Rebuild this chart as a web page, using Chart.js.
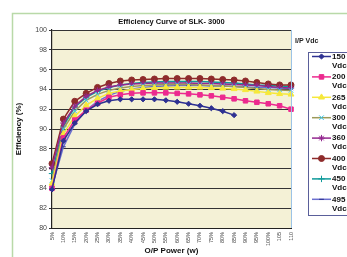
<!DOCTYPE html>
<html>
<head>
<meta charset="utf-8">
<script src="https://cdn.jsdelivr.net/npm/chart.js@4.4.1/dist/chart.umd.min.js"></script>
<style>
  html, body { margin: 0; padding: 0; background: #fff; }
  #wrap { width: 347px; height: 257px; position: relative; }
</style>
</head>
<body>
<div id="wrap"><canvas id="effChart"></canvas></div>
<script>
// Categories (O/P power)
const loads = ['5%', '10%', '15%', '20%', '25%', '30%', '35%', '40%', '45%', '50%', '55%',
               '60%', '65%', '70%', '75%', '80%', '85%', '90%', '95%', '100%', '105', '110'];

// Efficiency (%) per input voltage
const vdc150 = [83.9, 88.8, 90.6, 91.8, 92.5, 92.85, 93.0, 93.0, 93.0, 93.0, 92.9,
                92.75, 92.55, 92.35, 92.1, 91.8, 91.4];
const vdc200 = [84.0, 89.1, 90.9, 91.9, 92.6, 93.2, 93.45, 93.6, 93.65, 93.65, 93.65,
                93.6, 93.55, 93.45, 93.35, 93.2, 93.05, 92.85, 92.7, 92.55, 92.35, 92.0];
const vdc265 = [84.5, 89.5, 91.3, 92.4, 93.1, 93.6, 93.85, 94.0, 94.1, 94.15, 94.2,
                94.2, 94.2, 94.2, 94.15, 94.1, 94.05, 93.95, 93.8, 93.65, 93.55, 93.5];
const vdc300 = [84.8, 90.0, 91.8, 92.9, 93.5, 93.9, 94.15, 94.3, 94.4, 94.45, 94.5,
                94.5, 94.5, 94.45, 94.4, 94.35, 94.3, 94.2, 94.1, 94.0, 93.95, 93.9];
const vdc360 = [86.1, 90.6, 92.3, 93.3, 93.9, 94.25, 94.45, 94.55, 94.6, 94.65, 94.65,
                94.65, 94.65, 94.6, 94.6, 94.55, 94.5, 94.45, 94.4, 94.3, 94.2, 94.15];
const vdc400 = [86.5, 91.0, 92.8, 93.6, 94.2, 94.6, 94.85, 94.95, 95.0, 95.05, 95.1,
                95.1, 95.1, 95.1, 95.05, 95.0, 94.95, 94.85, 94.7, 94.55, 94.45, 94.45];
const vdc450 = [85.5, 90.3, 92.2, 93.2, 93.8, 94.2, 94.45, 94.6, 94.7, 94.75, 94.8,
                94.8, 94.8, 94.8, 94.75, 94.7, 94.65, 94.55, 94.45, 94.4, 94.35, 94.3];
const vdc495 = [84.2, 88.2, 90.5, 91.9, 92.8, 93.4, 93.8, 94.05, 94.2, 94.3, 94.35,
                94.4, 94.4, 94.4, 94.35, 94.35, 94.3, 94.25, 94.2, 94.2, 94.15, 94.1];

const yTicks = { min: 80, max: 100, step: 2 };

const series = [
    { label: '150', data: vdc150, line: '#2e3192', point: '#2e3192', style: 'rectRot', r: 2.6 },
    { label: '200', data: vdc200, line: '#ec2a8f', point: '#ec2a8f', style: 'rect', r: 3.2 },
    { label: '265', data: vdc265, line: '#f6e83a', point: '#f6e83a', style: 'triangle', r: 3.4 },
    { label: '300', data: vdc300, line: '#9c9a5a', point: '#33c6ee', style: 'crossRot', r: 3.2 },
    { label: '360', data: vdc360, line: '#93278f', point: '#93278f', style: 'star', r: 3.2 },
    { label: '400', data: vdc400, line: '#8e2b2b', point: '#8e2b2b', style: 'circle', r: 3.0 },
    { label: '450', data: vdc450, line: '#0f9a9a', point: '#0f9a9a', style: 'cross', r: 3.2 },
    { label: '495', data: vdc495, line: '#6b6fcf', point: '#2a2f8e', style: 'line', r: 2.4 }
];

// cream plot area + light green outer frame
const backdrop = {
    id: 'backdrop',
    beforeDraw(chart) {
        const { ctx, chartArea: a } = chart;
        ctx.save();
        ctx.strokeStyle = '#b9d9a8';
        ctx.lineWidth = 1.5;
        ctx.strokeRect(12.5, 13.5, 400, 300);
        ctx.fillStyle = '#f4f1d6';
        ctx.fillRect(a.left, a.top, a.right - a.left, a.bottom - a.top);
        ctx.restore();
    },
    afterDraw(chart) {
        const { ctx, chartArea: a } = chart;
        ctx.save();
        ctx.strokeStyle = '#9cc3e6';
        ctx.lineWidth = 1;
        ctx.beginPath();
        ctx.moveTo(a.right + 0.5, a.top);
        ctx.lineTo(a.right + 0.5, a.bottom);
        ctx.stroke();
        ctx.restore();
    }
};

// side legend drawn from the dataset styles
const sideLegend = {
    id: 'sideLegend',
    afterDraw(chart) {
        const ctx = chart.ctx;
        ctx.save();
        ctx.fillStyle = '#222';
        ctx.font = 'bold 7px "Liberation Sans", Arial, sans-serif';
        ctx.textBaseline = 'middle';
        ctx.fillText('I/P Vdc', 295, 41);

        ctx.strokeStyle = '#5a5f9a';
        ctx.lineWidth = 1;
        ctx.strokeRect(308.5, 52.5, 60, 163);

        ctx.font = 'bold 8px "Liberation Sans", Arial, sans-serif';
        chart.data.datasets.forEach((ds, i) => {
            const y = 56.5 + i * 20.4;
            ctx.strokeStyle = ds.borderColor;
            ctx.lineWidth = 1.5;
            ctx.beginPath();
            ctx.moveTo(312, y);
            ctx.lineTo(331, y);
            ctx.stroke();
            ctx.fillStyle = ds.pointBackgroundColor;
            ctx.strokeStyle = ds.pointBorderColor;
            ctx.lineWidth = 1;
            Chart.helpers.drawPoint(ctx, { pointStyle: ds.pointStyle, radius: ds.pointRadius, rotation: 0, borderWidth: 1 }, 321.5, y);
            ctx.fillStyle = '#111';
            ctx.fillText(ds.label, 332, y);
            ctx.fillText('Vdc', 332, y + 9);
        });
        ctx.restore();
    }
};

new Chart(document.getElementById('effChart'), {
    type: 'line',
    data: {
        labels: loads,
        datasets: series.map(s => ({
            label: s.label,
            data: s.data,
            borderColor: s.line,
            borderWidth: 1.5,
            pointStyle: s.style,
            pointRadius: s.r,
            pointBackgroundColor: s.point,
            pointBorderColor: s.point,
            pointBorderWidth: 1,
            tension: 0,
            fill: false
        }))
    },
    options: {
        responsive: true,
        maintainAspectRatio: false,
        animation: false,
        layout: { padding: { left: 14, top: 13, right: 56, bottom: 0 } },
        plugins: {
            legend: { display: false },
            tooltip: { enabled: false },
            title: {
                display: true,
                fullSize: false,
                text: 'Efficiency Curve of SLK- 3000',
                color: '#111',
                font: { family: '"Liberation Sans", Arial, sans-serif', size: 7.5, weight: 'bold' },
                padding: { top: 4, bottom: 4 }
            }
        },
        scales: {
            x: {
                offset: false,
                grid: { display: false, drawOnChartArea: false, drawTicks: true, tickLength: 3, color: '#222' },
                border: { color: '#222', width: 1 },
                ticks: {
                    color: '#444',
                    font: { family: '"Liberation Sans", Arial, sans-serif', size: 5.5 },
                    maxRotation: 90, minRotation: 90, autoSkip: false, padding: 1
                },
                title: {
                    display: true,
                    text: 'O/P Power (w)',
                    color: '#111',
                    font: { family: '"Liberation Sans", Arial, sans-serif', size: 8, weight: 'bold' },
                    padding: { top: 0, bottom: 1 }
                },
                afterFit: s => { s.height = 29; }
            },
            y: {
                min: yTicks.min,
                max: yTicks.max,
                grid: { color: '#333', lineWidth: 1, tickLength: 3 },
                border: { color: '#222', width: 1.2 },
                ticks: {
                    stepSize: yTicks.step,
                    color: '#444',
                    font: { family: '"Liberation Sans", Arial, sans-serif', size: 7 },
                    padding: 2
                },
                title: {
                    display: true,
                    text: 'Efficiency (%)',
                    color: '#111',
                    font: { family: '"Liberation Sans", Arial, sans-serif', size: 8, weight: 'bold' },
                    padding: { top: 0, bottom: 0 }
                },
                afterFit: s => { s.width = 38; }
            }
        }
    },
    plugins: [backdrop, sideLegend]
});
</script>
</body>
</html>
